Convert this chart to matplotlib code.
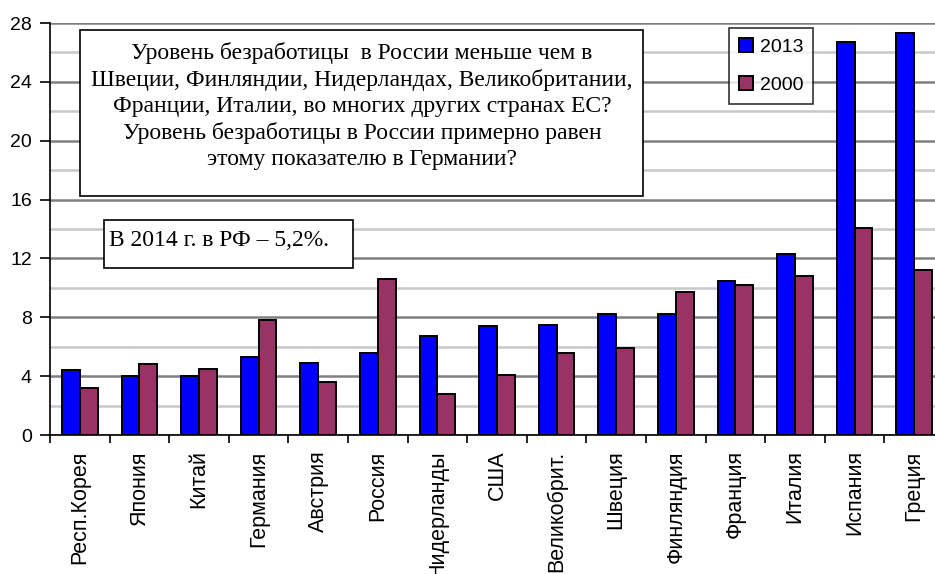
import numpy as np
import matplotlib.pyplot as plt
from matplotlib.patches import Rectangle

# unemployment rate, %
countries = ['Респ.Корея', 'Япония', 'Китай', 'Германия', 'Австрия', 'Россия',
             'Нидерланды', 'США', 'Великобрит.', 'Швеция', 'Финляндия',
             'Франция', 'Италия', 'Испания', 'Греция']
u2013 = [4.4, 4.0, 4.0, 5.3, 4.9, 5.6, 6.7, 7.4, 7.5, 8.2, 8.2, 10.5, 12.3, 26.7, 27.3]
u2000 = [3.2, 4.8, 4.5, 7.8, 3.6, 10.6, 2.8, 4.1, 5.6, 5.9, 9.7, 10.2, 10.8, 14.1, 11.2]
yticks = [0, 4, 8, 12, 16, 20, 24, 28]

sans = 'Liberation Sans'
serif = 'Liberation Serif'

fig = plt.figure(figsize=(9.35, 5.74), dpi=100)
W, H = 935, 574
# axes spans 15 categories of ~59.6 px, runs slightly past the right edge
ax = fig.add_axes([50/W, 1 - 435/H, 15*59.6/W, (435-23)/H])

x = np.arange(len(countries))
w = 0.3
ax.bar(x - w/2, u2013, w, color='#0000FF', edgecolor='black', linewidth=1.4, label='2013', zorder=3)
ax.bar(x + w/2, u2000, w, color='#993366', edgecolor='black', linewidth=1.4, label='2000', zorder=3)

ax.set_xlim(-0.5, len(countries) - 0.5)
ax.set_ylim(0, 28)
ax.set_yticks(yticks)
ax.set_yticklabels([str(v) for v in yticks], fontfamily=sans, fontsize=14)
ax.set_yticks(np.arange(2, 28, 4), minor=True)
ax.tick_params(axis='y', which='minor', length=0)
ax.tick_params(axis='y', which='major', length=7, width=1.2, direction='out', pad=6)
ax.grid(axis='y', which='major', color='#808080', linewidth=1.8, zorder=0)
ax.grid(axis='y', which='minor', color='#c8c8c8', linewidth=1.8, zorder=0)

ax.set_xticks(np.arange(-0.5, len(countries), 1))
ax.set_xticklabels([])
ax.tick_params(axis='x', length=6, width=1.2, direction='out')
ax.set_xticks(x, minor=True)
ax.set_xticklabels(countries, minor=True, rotation=90, fontfamily=sans, fontsize=15.5)
ax.tick_params(axis='x', which='minor', length=0, pad=11)

for s in ['top', 'right']:
    ax.spines[s].set_visible(False)
ax.spines['left'].set_linewidth(1.2)
ax.spines['bottom'].set_linewidth(1.2)

leg = ax.legend(loc='upper left', bbox_to_anchor=((729-50)/(15*59.6), (435-28)/412),
                prop={'family': sans, 'size': 14}, frameon=True, fancybox=False,
                handlelength=0.75, handleheight=0.75, handletextpad=0.35,
                labelspacing=1.05, borderpad=0.5, borderaxespad=0)
leg.get_frame().set_edgecolor('black')
leg.get_frame().set_linewidth(1.2)

# question box
fig.patches.append(Rectangle((80/W, 1 - 196/H), (643-80)/W, (196-30)/H, transform=fig.transFigure,
                             facecolor='white', edgecolor='black', linewidth=1.2, zorder=5))
fig.text(362/W, 1 - 106/H,
         'Уровень безработицы  в России меньше чем в\n'
         'Швеции, Финляндии, Нидерландах, Великобритании,\n'
         'Франции, Италии, во многих других странах ЕС?\n'
         'Уровень безработицы в России примерно равен\n'
         'этому показателю в Германии?',
         ha='center', va='center', fontfamily=serif, fontsize=17, linespacing=1.3, zorder=6)

# 2014 note
fig.patches.append(Rectangle((104/W, 1 - 268/H), (353-104)/W, (268-220)/H, transform=fig.transFigure,
                             facecolor='white', edgecolor='black', linewidth=1.2, zorder=5))
fig.text(109/W, 1 - 241/H, 'В 2014 г. в РФ – 5,2%.', ha='left', va='center',
         fontfamily=serif, fontsize=17, zorder=6)

fig.savefig('out.png', dpi=100, facecolor='white')
